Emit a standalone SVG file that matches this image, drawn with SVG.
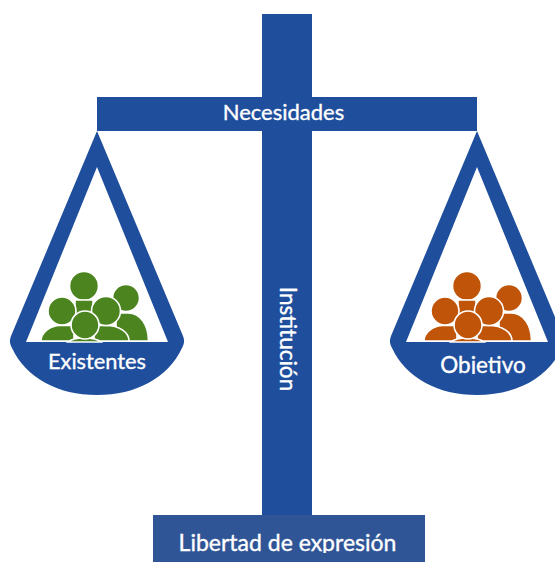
<svg xmlns="http://www.w3.org/2000/svg" width="555" height="562" viewBox="0 0 555 562">
<style>
.b{fill:#1f4e9c}
.t{font-family:Lato,"Liberation Sans",sans-serif;font-weight:400;fill:#fff;stroke:#fff;stroke-width:.35;text-anchor:middle}
.p{stroke:#fff;stroke-width:1.600}
</style>
<defs>
<g id="people" class="p">
<path d="M116 341V313H128C141 313 148.500 326 148.500 341Z"/>
<path d="M41 341C41 333 50 325.500 60 325.500H74V341Z"/>
<circle cx="84" cy="286" r="14.500"/>
<path d="M75 300H93V316H75Z"/>
<circle cx="126" cy="298" r="13.500"/>
<circle cx="62" cy="311" r="14"/>
<path d="M94 341V325.500H106C119 325.500 129 332 129 341Z"/>
<circle cx="106" cy="311" r="14.500"/>
<path d="M68 342C71 339.500 77 338 84 338C92 338 98 339.500 101 342Z"/>
<circle cx="85" cy="325" r="14"/>
</g>
<path id="pan" d="M97 131L11 336C9 341 10 344 12 348C26 378 58 395 97 395C136 395 168 378 182 348C184 344 185 341 183 336ZM97 167L168 342H26Z" fill-rule="evenodd"/>
<clipPath id="c1"><rect x="400" y="340" width="155" height="34"/></clipPath>
<clipPath id="c2"><rect x="153" y="515" width="272" height="38"/></clipPath>
</defs>
<g id="post"><rect class="b" x="262" y="14" width="50" height="501"/></g>
<g id="institucion"><text class="t" transform="translate(279.500 339) rotate(90)" font-size="22.500">Institución</text></g>
<g id="necesidades"><rect class="b" x="97" y="97" width="380" height="34"/><text class="t" x="283.500" y="120" font-size="22">Necesidades</text></g>
<g id="base"><rect x="153" y="515" width="272" height="47" fill="#2f5597"/><text class="t" x="287.500" y="551" font-size="23" clip-path="url(#c2)">Libertad de expresión</text></g>
<g id="existentes"><use href="#pan" class="b"/><use href="#people" fill="#4c8520"/><text class="t" x="97" y="369" font-size="21.800">Existentes</text></g>
<g id="objetivo"><use href="#pan" x="380" class="b"/><use href="#people" x="383" fill="#c05408"/><text class="t" x="483" y="373" font-size="22.500" clip-path="url(#c1)">Objetivo</text></g>
<g id="connectors"></g>
</svg>
